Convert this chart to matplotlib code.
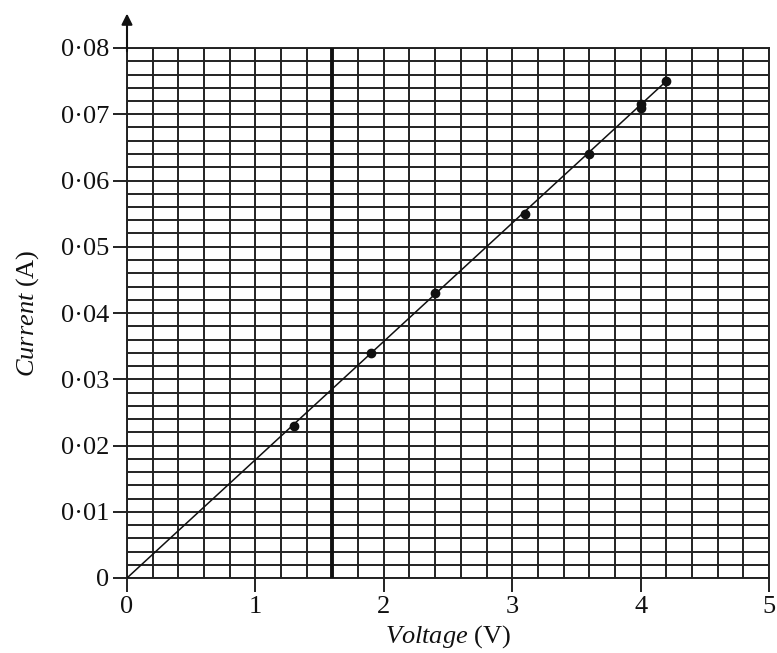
import matplotlib
matplotlib.use("Agg")
import matplotlib.pyplot as plt
import numpy as np

# Data
voltage = [1.3, 1.9, 2.4, 3.1, 3.6, 4.0, 4.0, 4.2]
current = [0.023, 0.034, 0.043, 0.055, 0.064, 0.071, 0.0715, 0.075]
fit_x = [0.0, 4.2]
fit_y = [0.0, 0.075]
marker_v = 1.6
x_ticks = [0, 1, 2, 3, 4, 5]
y_ticks = [0.0, 0.01, 0.02, 0.03, 0.04, 0.05, 0.06, 0.07, 0.08]
y_tick_labels = ["0", "0·01", "0·02", "0·03", "0·04", "0·05", "0·06", "0·07", "0·08"]

plt.rcParams['font.family'] = ['Liberation Serif', 'DejaVu Serif']
plt.rcParams['mathtext.fontset'] = 'custom'
plt.rcParams['mathtext.rm'] = 'Liberation Serif'
plt.rcParams['mathtext.it'] = 'Liberation Serif:italic'

fig = plt.figure(figsize=(7.77, 6.53), dpi=100)
ax = fig.add_axes([127/777, 75/653, (769-127)/777, (578-48)/653])

ax.set_xlim(0, 5)
ax.set_ylim(0, 0.08)

ax.set_xticks(x_ticks)
ax.set_xticklabels([str(t) for t in x_ticks])
ax.set_xticks(np.arange(0, 5.0001, 0.2), minor=True)
ax.set_yticks(y_ticks)
ax.set_yticklabels(y_tick_labels)
ax.set_yticks(np.arange(0, 0.08001, 0.002), minor=True)

gcol = '#222222'
ax.grid(True, which='both', color=gcol, linewidth=1.4)
ax.set_axisbelow(True)

ax.tick_params(which='major', direction='out', length=10, width=1.4, color=gcol,
               labelsize=19, labelcolor='#111111', pad=3)
ax.tick_params(which='minor', length=0)

for s in ax.spines.values():
    s.set_color(gcol)
    s.set_linewidth(1.4)

# thick vertical line
ax.axvline(marker_v, color='#111111', linewidth=2.8, zorder=3)

# fit line
ax.plot(fit_x, fit_y, color='#111111', linewidth=1.1, zorder=4)
# points
ax.plot(voltage, current, 'o', color='#111111', markersize=6, zorder=5)

# y axis arrow
ax.annotate('', xy=(0, 0.0852), xytext=(0, 0.0795),
            arrowprops=dict(arrowstyle='-|>', color='#111111', lw=1.5,
                            mutation_scale=16, shrinkA=0, shrinkB=0),
            annotation_clip=False)

ax.set_xlabel(r'$\mathit{Voltage}$ (V)', fontsize=19, color='#111111', labelpad=4)
ax.set_ylabel(r'$\mathit{Current}$ (A)', fontsize=19, color='#111111', labelpad=14)

fig.savefig('out.png', dpi=100)
